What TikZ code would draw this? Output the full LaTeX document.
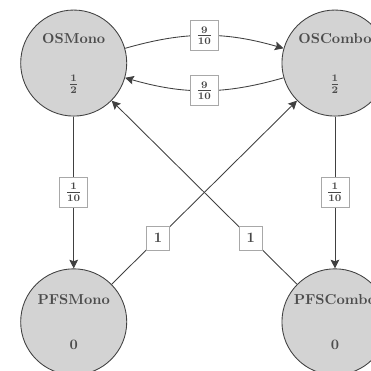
\documentclass[tikz,border=0pt]{standalone}
\usepackage{xcolor}
\usepackage{tikz}
\usetikzlibrary{arrows.meta}
\definecolor{cStateF}{HTML}{D3D3D3}
\definecolor{cStateL}{HTML}{404040}
\definecolor{cProbL}{HTML}{A8A8A8}

\begin{document}
\begin{tikzpicture}[x=1cm,y=1cm,
  state/.style={circle,draw=cStateL,fill=cStateF,line width=0.6pt,
    minimum size=2.59cm,inner sep=0pt,align=center,
    font=\bfseries\boldmath,text=black!70},
  prob/.style={draw=cProbL,fill=white,line width=0.5pt,
    font=\bfseries\boldmath,text=black!72,inner sep=4pt,minimum size=16pt},
  tr/.style={-{Stealth[length=6pt,width=6pt,inset=1pt]},line width=0.6pt,draw=cStateL}]
  \useasboundingbox (0,0) rectangle (9.06,-9.04);

  \foreach \n/\x/\y/\v in {
    OSMono/1.80/-1.54/{\frac{1}{2}},
    OSCombo/8.18/-1.54/{\frac{1}{2}},
    PFSMono/1.80/-7.86/{0},
    PFSCombo/8.18/-7.86/{0}}
    {\node[state] (\n) at (\x,\y) {\n\\[19pt]$\v$};}

  \draw[tr] (OSMono) to[bend left=16] node[prob] (pMC) {$\frac{9}{10}$} (OSCombo);
  \draw[tr] (OSCombo) to[bend left=16] node[prob] (pCM) {$\frac{9}{10}$} (OSMono);
  \draw[tr] (OSMono) -- node[prob] (pMP) {$\frac{1}{10}$} (PFSMono);
  \draw[tr] (OSCombo) -- node[prob] (pCP) {$\frac{1}{10}$} (PFSCombo);
  \draw[tr] (PFSMono) -- node[prob,pos=0.25] (pPMC) {$1$} (OSCombo);
  \draw[tr] (PFSCombo) -- node[prob,pos=0.25] (pPCM) {$1$} (OSMono);
\end{tikzpicture}
\end{document}
